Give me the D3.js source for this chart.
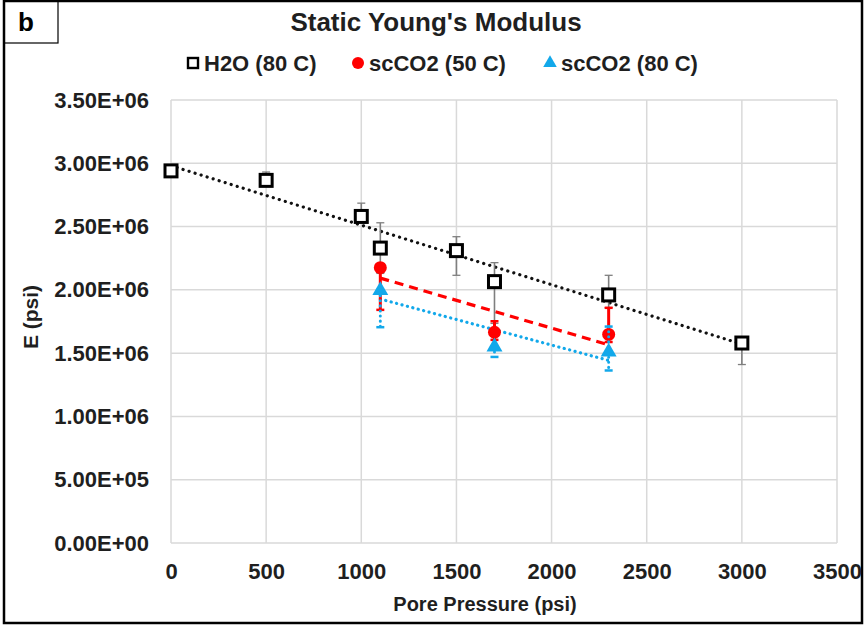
<!DOCTYPE html>
<html>
<head>
<meta charset="utf-8">
<script src="https://cdn.jsdelivr.net/npm/d3@7"></script>
<style>
  body { margin: 0; background: #fff; }
  text { font-family: "Liberation Sans", Arial, sans-serif; font-weight: bold; fill: #1f1f1f; }
</style>
</head>
<body>
<svg id="grafico"></svg>
<script>
// dados
const xTicks = [0, 500, 1000, 1500, 2000, 2500, 3000, 3500];
const yTicks = [0, 5e5, 1e6, 1.5e6, 2e6, 2.5e6, 3e6, 3.5e6];

const h2oX = [0, 500, 1000, 1100, 1500, 1700, 2300, 3000];
const h2oY = [2.94e6, 2.865e6, 2.58e6, 2.33e6, 2.31e6, 2.065e6, 1.96e6, 1.58e6];
const h2oErrMais = [0, 0.066e6, 0.105e6, 0.2e6, 0.11e6, 0.15e6, 0.155e6, 0.02e6];
const h2oErrMenos = [0, 0.03e6, 0.04e6, 0.2e6, 0.195e6, 0.33e6, 0.1e6, 0.17e6];

const co250X = [1100, 1700, 2300];
const co250Y = [2.175e6, 1.665e6, 1.648e6];
const co250ErrMais = [0, 0.087e6, 0.21e6];
const co250ErrMenos = [0.333e6, 0.06e6, 0.06e6];

const co280X = [1100, 1700, 2300];
const co280Y = [1.995e6, 1.55e6, 1.51e6];
const co280ErrMais = [0, 0, 0.2e6];
const co280ErrMenos = [0.29e6, 0.08e6, 0.147e6];

const largura = 865, altura = 627;
const margem = { esquerda: 171, direita: 28, superior: 100, inferior: 84 };

const svg = d3.select('#grafico').attr('width', largura).attr('height', altura);

// moldura externa e caixa "b"
svg.append('rect').attr('x', 4).attr('y', 1).attr('width', largura - 7).attr('height', altura - 5)
  .attr('fill', 'none').attr('stroke', '#000').attr('stroke-width', 2.5);
svg.append('rect').attr('x', 4).attr('y', 1).attr('width', 54).attr('height', 42)
  .attr('fill', 'none').attr('stroke', '#000').attr('stroke-width', 1.2);
svg.append('text').attr('x', 26).attr('y', 31).style('font-size', '26px').style('fill', '#000')
  .attr('text-anchor', 'middle').text('b');

const plotagem = svg.append('g').attr('transform', `translate(${margem.esquerda}, ${margem.superior})`);
const larguraPlotagem = largura - margem.esquerda - margem.direita;
const alturaPlotagem = altura - margem.superior - margem.inferior;

const x = d3.scaleLinear().domain([0, 3500]).range([0, larguraPlotagem]);
const y = d3.scaleLinear().domain([0, 3.5e6]).range([alturaPlotagem, 0]);

function formatoE(v) {
  const [m, e] = v.toExponential(2).split('e');
  const n = parseInt(e, 10);
  return m + 'E' + (n < 0 ? '-' : '+') + String(Math.abs(n)).padStart(2, '0');
}

// grade
plotagem.append('g').attr('id', 'gradeX').selectAll('line').data(xTicks).enter().append('line')
  .attr('x1', d => x(d)).attr('x2', d => x(d)).attr('y1', 0).attr('y2', alturaPlotagem)
  .attr('stroke', '#d9d9d9').attr('stroke-width', 1.5);
plotagem.append('g').attr('id', 'gradeY').selectAll('line').data(yTicks).enter().append('line')
  .attr('x1', 0).attr('x2', larguraPlotagem).attr('y1', d => y(d)).attr('y2', d => y(d))
  .attr('stroke', '#d9d9d9').attr('stroke-width', 1.5);

// eixos (somente rotulos)
const eixoX = d3.axisBottom(x).tickValues(xTicks).tickSize(0).tickPadding(20).tickFormat(d3.format('d'));
const eixoY = d3.axisLeft(y).tickValues(yTicks).tickSize(0).tickPadding(22).tickFormat(formatoE);

const gx = plotagem.append('g').attr('id', 'eixoX').attr('transform', `translate(0, ${alturaPlotagem})`).call(eixoX);
const gy = plotagem.append('g').attr('id', 'eixoY').call(eixoY);
[gx, gy].forEach(g => {
  g.select('.domain').remove();
  g.selectAll('text').style('font-size', '22px').style('font-family', '"Liberation Sans", Arial, sans-serif')
    .style('font-weight', 'bold').attr('fill', '#1f1f1f');
});

// linhas de tendencia (regressao linear)
function regressao(xs, ys) {
  const mx = d3.mean(xs), my = d3.mean(ys);
  const b = d3.sum(xs, (v, i) => (v - mx) * (ys[i] - my)) / d3.sum(xs, v => (v - mx) ** 2);
  return v => my + b * (v - mx);
}
function tendencia(xs, ys, cor, traco) {
  const f = regressao(xs, ys);
  const x0 = d3.min(xs), x1 = d3.max(xs);
  plotagem.append('line')
    .attr('x1', x(x0)).attr('y1', y(f(x0))).attr('x2', x(x1)).attr('y2', y(f(x1)))
    .attr('stroke', cor).attr('stroke-width', 3.2).attr('stroke-dasharray', traco)
    .attr('stroke-linecap', traco === '9 6' ? 'butt' : 'round');
}
tendencia(h2oX, h2oY, '#111', '0.1 6.2');
tendencia(co250X, co250Y, '#ff0000', '9 6');
tendencia(co280X, co280Y, '#12a8ea', '0.1 5.5');

// barras de erro
function barrasErro(xs, ys, mais, menos, cor, largLinha, traco) {
  const g = plotagem.append('g');
  xs.forEach((xv, i) => {
    const topo = ys[i] + mais[i], base = ys[i] - menos[i];
    if (mais[i] === 0 && menos[i] === 0) return;
    g.append('line').attr('x1', x(xv)).attr('x2', x(xv)).attr('y1', y(topo)).attr('y2', y(base))
      .attr('stroke', cor).attr('stroke-width', largLinha).attr('stroke-dasharray', traco || null)
      .attr('stroke-linecap', traco ? 'round' : 'butt');
    [topo, base].forEach((v, k) => {
      if ((k === 0 ? mais[i] : menos[i]) === 0) return;
      g.append('line').attr('x1', x(xv) - 4).attr('x2', x(xv) + 4).attr('y1', y(v)).attr('y2', y(v))
        .attr('stroke', cor).attr('stroke-width', largLinha > 2 ? 2.5 : 1.3);
    });
  });
}

// series
barrasErro(h2oX, h2oY, h2oErrMais, h2oErrMenos, '#7f7f7f', 1.6);
plotagem.append('g').selectAll('rect').data(h2oX.map((v, i) => [v, h2oY[i]])).enter().append('rect')
  .attr('x', d => x(d[0]) - 6).attr('y', d => y(d[1]) - 6).attr('width', 12).attr('height', 12)
  .attr('fill', '#fff').attr('stroke', '#000').attr('stroke-width', 3);

barrasErro(co250X, co250Y, co250ErrMais, co250ErrMenos, '#ff0000', 3);
plotagem.append('g').selectAll('circle').data(co250X.map((v, i) => [v, co250Y[i]])).enter().append('circle')
  .attr('cx', d => x(d[0])).attr('cy', d => y(d[1])).attr('r', 6.5).attr('fill', '#ff0000');

barrasErro(co280X, co280Y, co280ErrMais, co280ErrMenos, '#12a8ea', 3, '0.1 5');
const triangulo = d3.symbol().type(d3.symbolTriangle).size(110);
plotagem.append('g').selectAll('path').data(co280X.map((v, i) => [v, co280Y[i]])).enter().append('path')
  .attr('d', triangulo).attr('transform', d => `translate(${x(d[0])}, ${y(d[1])})`).attr('fill', '#12a8ea');

// titulos
svg.append('text').attr('x', 436).attr('y', 31).attr('text-anchor', 'middle').style('font-size', '26px')
  .text("Static Young's Modulus");
svg.append('text').attr('text-anchor', 'middle').style('font-size', '20px')
  .attr('transform', 'translate(485, 611)')
  .text('Pore Pressure (psi)');
svg.append('text').attr('text-anchor', 'middle').style('font-size', '21px')
  .attr('transform', 'translate(38, 317) rotate(-90)')
  .text('E (psi)');

// legenda
const legenda = svg.append('g').attr('transform', 'translate(0, 63)');
legenda.append('rect').attr('x', 188).attr('y', -5).attr('width', 10).attr('height', 10)
  .attr('fill', '#fff').attr('stroke', '#000').attr('stroke-width', 2.4);
legenda.append('text').attr('x', 204).attr('y', 8).style('font-size', '22px').text('H2O (80 C)');
legenda.append('circle').attr('cx', 358).attr('cy', 0).attr('r', 6).attr('fill', '#ff0000');
legenda.append('text').attr('x', 369).attr('y', 8).style('font-size', '22px').text('scCO2 (50 C)');
legenda.append('path').attr('d', d3.symbol().type(d3.symbolTriangle).size(80)).attr('transform', 'translate(550, 0)')
  .attr('fill', '#12a8ea');
legenda.append('text').attr('x', 561).attr('y', 8).style('font-size', '22px').text('scCO2 (80 C)');
</script>
</body>
</html>
